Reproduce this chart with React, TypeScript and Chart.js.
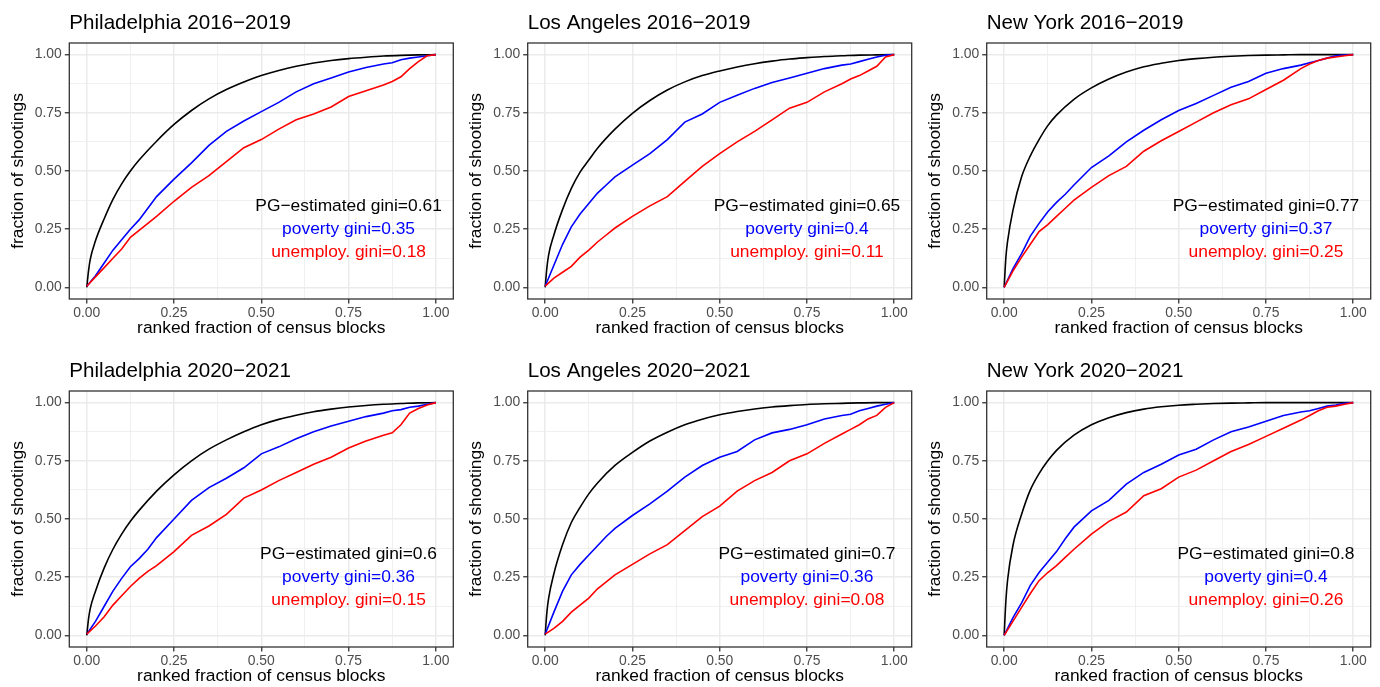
import React, { useEffect, useRef } from "react";
import { Chart, registerables } from "chart.js";
Chart.register(...registerables);

const FONT = "'Liberation Sans', Arial, Helvetica, sans-serif";

// x positions (ranked fraction of census blocks)
const EMP_X = [0, 0.025, 0.05, 0.075, 0.1, 0.125, 0.15, 0.175, 0.2, 0.25, 0.3, 0.35, 0.4, 0.45, 0.5, 0.55, 0.6, 0.65, 0.7, 0.75, 0.8, 0.85, 0.875, 0.9, 0.925, 0.95, 0.975, 1];
const PG_X = [0, 0.005, 0.01, 0.025, 0.05, 0.075, 0.1, 0.125, 0.15, 0.2, 0.25, 0.3, 0.35, 0.4, 0.45, 0.5, 0.55, 0.6, 0.65, 0.7, 0.75, 0.8, 0.85, 0.9, 0.95, 1];

// Philadelphia 2016-2019
const PHL1619_PG = [0, 0.07, 0.12, 0.2, 0.295, 0.378, 0.445, 0.5, 0.547, 0.628, 0.70, 0.76, 0.81, 0.85, 0.882, 0.91, 0.932, 0.95, 0.964, 0.975, 0.983, 0.989, 0.994, 0.997, 0.999, 1];
const PHL1619_POV = [0.005, 0.05, 0.105, 0.16, 0.205, 0.25, 0.29, 0.34, 0.39, 0.465, 0.535, 0.61, 0.67, 0.715, 0.755, 0.795, 0.84, 0.875, 0.9, 0.925, 0.945, 0.96, 0.965, 0.978, 0.985, 0.99, 0.995, 1];
const PHL1619_UNEMP = [0.005, 0.045, 0.085, 0.125, 0.165, 0.215, 0.245, 0.275, 0.305, 0.37, 0.43, 0.48, 0.54, 0.6, 0.635, 0.68, 0.72, 0.745, 0.775, 0.82, 0.845, 0.87, 0.885, 0.905, 0.94, 0.97, 0.995, 1];

// Los Angeles 2016-2019
const LA1619_PG = [0, 0.085, 0.14, 0.225, 0.335, 0.425, 0.495, 0.547, 0.598, 0.68, 0.748, 0.803, 0.848, 0.883, 0.91, 0.93, 0.947, 0.961, 0.972, 0.981, 0.987, 0.992, 0.995, 0.998, 0.999, 1];
const LA1619_POV = [0.005, 0.095, 0.185, 0.26, 0.315, 0.36, 0.405, 0.44, 0.475, 0.525, 0.575, 0.635, 0.71, 0.745, 0.795, 0.825, 0.855, 0.88, 0.9, 0.92, 0.94, 0.955, 0.96, 0.97, 0.98, 0.99, 0.998, 1];
const LA1619_UNEMP = [0.005, 0.04, 0.065, 0.09, 0.13, 0.16, 0.195, 0.225, 0.255, 0.305, 0.35, 0.39, 0.455, 0.52, 0.575, 0.625, 0.67, 0.72, 0.77, 0.795, 0.84, 0.875, 0.895, 0.91, 0.93, 0.95, 0.99, 1];

// New York 2016-2019
const NY1619_PG = [0, 0.13, 0.2, 0.33, 0.475, 0.565, 0.635, 0.695, 0.74, 0.808, 0.857, 0.895, 0.925, 0.948, 0.963, 0.975, 0.983, 0.989, 0.993, 0.996, 0.998, 0.999, 1, 1, 1, 1];
const NY1619_POV = [0, 0.08, 0.145, 0.22, 0.275, 0.325, 0.365, 0.4, 0.44, 0.515, 0.565, 0.625, 0.675, 0.72, 0.76, 0.79, 0.825, 0.86, 0.885, 0.92, 0.94, 0.955, 0.965, 0.975, 0.985, 0.995, 0.998, 1];
const NY1619_UNEMP = [0, 0.07, 0.13, 0.185, 0.24, 0.27, 0.305, 0.34, 0.375, 0.43, 0.48, 0.52, 0.585, 0.63, 0.67, 0.71, 0.75, 0.785, 0.81, 0.85, 0.89, 0.94, 0.96, 0.975, 0.985, 0.99, 0.995, 1];

// Philadelphia 2020-2021
const PHL2021_PG = [0, 0.07, 0.115, 0.19, 0.29, 0.37, 0.435, 0.49, 0.537, 0.62, 0.69, 0.75, 0.8, 0.84, 0.875, 0.905, 0.928, 0.946, 0.961, 0.972, 0.981, 0.988, 0.993, 0.996, 0.999, 1];
const PHL2021_POV = [0.005, 0.06, 0.125, 0.19, 0.245, 0.295, 0.33, 0.37, 0.42, 0.5, 0.58, 0.635, 0.675, 0.72, 0.78, 0.81, 0.845, 0.875, 0.9, 0.92, 0.94, 0.955, 0.965, 0.97, 0.98, 0.985, 0.993, 1];
const PHL2021_UNEMP = [0.005, 0.04, 0.08, 0.13, 0.17, 0.21, 0.245, 0.275, 0.3, 0.36, 0.43, 0.47, 0.52, 0.59, 0.625, 0.665, 0.7, 0.735, 0.765, 0.805, 0.835, 0.86, 0.87, 0.905, 0.955, 0.975, 0.99, 1];

// Los Angeles 2020-2021
const LA2021_PG = [0, 0.1, 0.16, 0.265, 0.39, 0.485, 0.55, 0.608, 0.655, 0.73, 0.786, 0.835, 0.873, 0.905, 0.929, 0.948, 0.962, 0.973, 0.981, 0.987, 0.992, 0.995, 0.997, 0.999, 1, 1];
const LA2021_POV = [0.005, 0.1, 0.19, 0.26, 0.305, 0.345, 0.385, 0.425, 0.46, 0.515, 0.565, 0.62, 0.68, 0.73, 0.765, 0.79, 0.84, 0.87, 0.885, 0.905, 0.93, 0.945, 0.95, 0.965, 0.975, 0.985, 0.993, 1];
const LA2021_UNEMP = [0.005, 0.03, 0.06, 0.1, 0.13, 0.16, 0.2, 0.23, 0.26, 0.305, 0.35, 0.39, 0.45, 0.51, 0.555, 0.62, 0.665, 0.7, 0.75, 0.78, 0.825, 0.865, 0.885, 0.905, 0.93, 0.945, 0.98, 1];

// New York 2020-2021
const NY2021_PG = [0, 0.15, 0.24, 0.385, 0.52, 0.625, 0.695, 0.75, 0.795, 0.86, 0.905, 0.935, 0.957, 0.972, 0.982, 0.989, 0.993, 0.996, 0.998, 0.999, 1, 1, 1, 1, 1, 1];
const NY2021_POV = [0, 0.075, 0.14, 0.215, 0.27, 0.315, 0.36, 0.415, 0.465, 0.535, 0.58, 0.65, 0.7, 0.735, 0.775, 0.8, 0.84, 0.875, 0.895, 0.92, 0.945, 0.96, 0.965, 0.975, 0.985, 0.99, 0.997, 1];
const NY2021_UNEMP = [0, 0.06, 0.12, 0.18, 0.235, 0.27, 0.3, 0.335, 0.37, 0.435, 0.49, 0.53, 0.6, 0.63, 0.68, 0.71, 0.75, 0.79, 0.82, 0.855, 0.89, 0.925, 0.945, 0.965, 0.98, 0.985, 0.993, 1];

const TITLES = [
  "Philadelphia 2016\u22122019", "Los Angeles 2016\u22122019", "New York 2016\u22122019",
  "Philadelphia 2020\u22122021", "Los Angeles 2020\u22122021", "New York 2020\u22122021",
];
const GINI_PG = [0.61, 0.65, 0.77, 0.6, 0.7, 0.8];
const GINI_POV = [0.35, 0.4, 0.37, 0.36, 0.36, 0.4];
const GINI_UNEMP = [0.18, 0.11, 0.25, 0.15, 0.08, 0.26];

const PG_SERIES = [PHL1619_PG, LA1619_PG, NY1619_PG, PHL2021_PG, LA2021_PG, NY2021_PG];
const POV_SERIES = [PHL1619_POV, LA1619_POV, NY1619_POV, PHL2021_POV, LA2021_POV, NY2021_POV];
const UNEMP_SERIES = [PHL1619_UNEMP, LA1619_UNEMP, NY1619_UNEMP, PHL2021_UNEMP, LA2021_UNEMP, NY2021_UNEMP];

const MAJOR_BREAKS = [0, 0.25, 0.5, 0.75, 1];
const GRID_BREAKS = [0, 0.125, 0.25, 0.375, 0.5, 0.625, 0.75, 0.875, 1];
const LABEL_X = 0.75;
const LABEL_Y = [0.35, 0.25, 0.15];

const X_TITLE = "ranked fraction of census blocks";
const Y_TITLE = "fraction of shootings";

// layout
const CANVAS_W = 460;
const CANVAS_H = 339;
const COL_LEFT = [69.3, 67.7, 66.7];
const PLOT_W = 384;
const Y_AXIS_W = 61.5;
const X_AXIS_H = 40;
const ROW_TOP = [0, 348];

const isMajor = (v: any) => typeof v === "number" && MAJOR_BREAKS.some((m) => Math.abs(m - v) < 1e-9);

function axis(title: string, isY: boolean) {
  return {
    type: "linear" as const,
    min: -0.05,
    max: 1.05,
    afterBuildTicks: (s: any) => {
      s.ticks = GRID_BREAKS.map((v) => ({ value: v }));
    },
    afterFit: (s: any) => {
      if (isY) s.width = Y_AXIS_W;
      else s.height = X_AXIS_H;
    },
    grid: {
      color: "#EBEBEB",
      lineWidth: (ctx: any) => (isMajor(ctx.tick && ctx.tick.value) ? 1.5 : 0.75),
      tickColor: (ctx: any) => (isMajor(ctx.tick && ctx.tick.value) ? "#333333" : "rgba(0,0,0,0)"),
      tickWidth: 1.3,
      tickLength: 4.5,
      drawTicks: true,
    },
    border: { display: false },
    ticks: {
      autoSkip: false,
      maxRotation: 0,
      minRotation: 0,
      padding: isY ? 3 : 1,
      color: "#4D4D4D",
      font: { family: FONT, size: 13.9 },
      callback: (v: any) => (isMajor(Number(v)) ? Number(v).toFixed(2) : ""),
    },
    title: {
      display: true,
      text: title,
      color: "#000000",
      font: { family: FONT, size: 17.4 },
      padding: 0,
    },
  };
}

function Panel({ idx }: { idx: number }) {
  const ref = useRef<HTMLCanvasElement>(null);
  const col = idx % 3;
  const row = Math.floor(idx / 3);
  useEffect(() => {
    const decor = {
      id: "decor" + idx,
      afterDatasetsDraw(chart: any) {
        const { ctx, chartArea: a, scales } = chart;
        ctx.save();
        ctx.font = `17.4px ${FONT}`;
        ctx.textAlign = "center";
        ctx.textBaseline = "middle";
        const lines: [string, string][] = [
          [`PG\u2212estimated gini=${GINI_PG[idx]}`, "#000000"],
          [`poverty gini=${GINI_POV[idx]}`, "#0000FF"],
          [`unemploy. gini=${GINI_UNEMP[idx]}`, "#FF0000"],
        ];
        lines.forEach(([t, c], i) => {
          ctx.fillStyle = c;
          ctx.fillText(t, scales.x.getPixelForValue(LABEL_X), scales.y.getPixelForValue(LABEL_Y[i]));
        });
        ctx.strokeStyle = "#333333";
        ctx.lineWidth = 1.3;
        ctx.strokeRect(a.left, a.top, a.right - a.left, a.bottom - a.top);
        ctx.fillStyle = "#000000";
        ctx.font = `20.6px ${FONT}`;
        ctx.textAlign = "left";
        ctx.textBaseline = "alphabetic";
        ctx.fillText(TITLES[idx], a.left, 29);
        ctx.restore();
      },
    };
    const chart = new Chart(ref.current as HTMLCanvasElement, {
      type: "line",
      data: {
        datasets: [
          {
            data: EMP_X.map((x, i) => ({ x, y: UNEMP_SERIES[idx][i] })),
            borderColor: "#FF0000",
            borderWidth: 1.6,
            pointRadius: 0,
            tension: 0,
          },
          {
            data: EMP_X.map((x, i) => ({ x, y: POV_SERIES[idx][i] })),
            borderColor: "#0000FF",
            borderWidth: 1.6,
            pointRadius: 0,
            tension: 0,
          },
          {
            data: PG_X.map((x, i) => ({ x, y: PG_SERIES[idx][i] })),
            borderColor: "#000000",
            borderWidth: 1.6,
            pointRadius: 0,
            cubicInterpolationMode: "monotone",
          },
        ],
      },
      options: {
        animation: false,
        responsive: false,
        devicePixelRatio: 1,
        layout: {
          padding: {
            top: 43,
            bottom: 0,
            left: COL_LEFT[col] - Y_AXIS_W,
            right: CANVAS_W - COL_LEFT[col] - PLOT_W,
          },
        },
        plugins: { legend: { display: false }, tooltip: { enabled: false } },
        scales: { x: axis(X_TITLE, false) as any, y: axis(Y_TITLE, true) as any },
      },
      plugins: [decor],
    });
    return () => chart.destroy();
  }, [idx]);
  return (
    <canvas
      ref={ref}
      width={CANVAS_W}
      height={CANVAS_H}
      style={{ position: "absolute", left: col * CANVAS_W, top: ROW_TOP[row], width: CANVAS_W, height: CANVAS_H, display: "block" }}
    />
  );
}

export default function App() {
  return (
    <div style={{ position: "absolute", left: 0, top: 0, width: 1380, height: 687, background: "#ffffff", overflow: "hidden" }}>
      {TITLES.map((_, i) => (
        <Panel key={i} idx={i} />
      ))}
    </div>
  );
}
